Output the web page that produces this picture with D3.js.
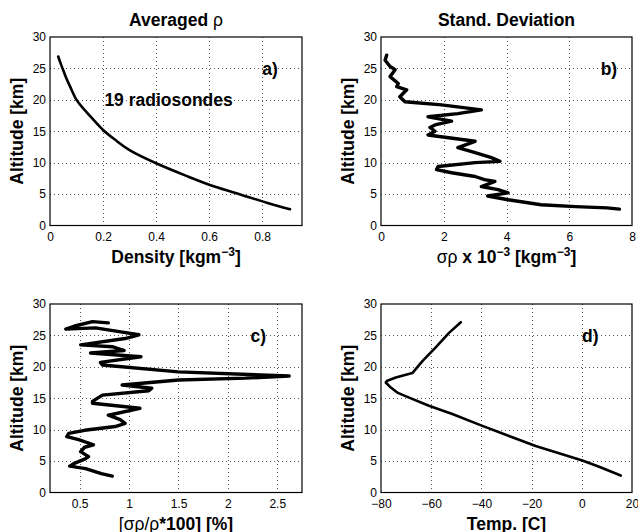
<!DOCTYPE html>
<html>
<head>
<meta charset="utf-8">
<script src="https://cdn.jsdelivr.net/npm/d3@7"></script>
<style>
    body { margin: 0; background: #fff; }
    svg { display: block; font-family: "Liberation Sans", Arial, Helvetica, sans-serif; }
</style>
</head>
<body>
<svg id="chart" width="638" height="532"></svg>
<script>
// values, top of the sounding first
const densityAlt = [26.9, 25.8, 24.7, 23.4, 22.1, 20.0, 18.6, 17.0, 15.2, 13.5, 12.0, 9.9, 7.8, 6.2, 4.9, 3.6, 2.6];
const densityVal = [0.031, 0.040, 0.050, 0.062, 0.076, 0.100, 0.126, 0.160, 0.200, 0.250, 0.300, 0.400, 0.520, 0.620, 0.720, 0.820, 0.905];

const sdAlt = [27.1, 26.3, 25.3, 24.8, 23.7, 22.6, 22.1, 21.6, 20.5, 19.7, 19.2, 18.4, 17.8, 17.3, 16.6, 16.0, 15.6, 15.0, 14.4,
    13.4, 12.4, 11.6, 10.8, 10.2, 10.0, 9.4, 8.9, 8.4, 7.8, 7.3, 7.0, 6.2, 5.7, 5.2, 4.7, 4.1, 3.3, 3.0, 2.8, 2.6];
const sdVal = [0.18, 0.13, 0.29, 0.45, 0.29, 0.55, 0.50, 0.82, 0.60, 0.76, 1.93, 3.20, 2.45, 1.50, 2.25, 1.72, 1.56, 1.72, 1.50,
    3.00, 2.45, 3.00, 3.52, 3.79, 3.00, 1.82, 1.77, 2.25, 3.00, 3.30, 3.63, 3.20, 3.73, 4.05, 3.40, 4.05, 5.10, 6.20, 7.20, 7.60];

const relAlt = [27.0, 27.2, 26.5, 26.0, 26.2, 25.6, 25.1, 24.5, 23.5, 23.2, 22.6, 22.2, 21.6, 20.7, 20.3, 19.2, 18.55, 18.2, 17.9,
    17.1, 16.6, 16.2, 15.5, 14.5, 14.2, 13.4, 12.3, 11.6, 11.0, 10.5, 9.9, 9.4, 8.9, 8.4, 7.6, 7.2, 6.5, 5.7, 5.3, 4.6, 4.2, 3.8, 3.0, 2.6];
const relVal = [0.79, 0.63, 0.45, 0.36, 0.66, 0.90, 1.10, 0.96, 0.51, 0.83, 0.95, 0.61, 1.12, 0.71, 0.73, 1.50, 2.62, 2.18, 1.50,
    0.93, 1.23, 1.20, 0.73, 0.63, 0.63, 1.11, 0.79, 0.91, 0.96, 0.86, 0.55, 0.39, 0.37, 0.49, 0.64, 0.55, 0.51, 0.59, 0.55, 0.44, 0.40, 0.56, 0.72, 0.83];

const tempAlt = [27.1, 25.4, 23.1, 20.9, 19.0, 18.3, 17.8, 17.5, 16.7, 15.9, 15.1, 13.8, 12.5, 10.6, 9.0, 7.4, 6.1, 5.1, 4.1, 2.7];
const tempVal = [-48.2, -52.9, -58.2, -63.5, -67.5, -74.1, -77.5, -78.1, -76.1, -73.5, -68.8, -60.9, -51.6, -39.6, -29.0, -18.4, -7.8, 0.2, 6.9, 15.5];

const altTicks = [0, 5, 10, 15, 20, 25, 30];
const densityTicks = [0, 0.2, 0.4, 0.6, 0.8];
const sdTicks = [0, 2, 4, 6, 8];
const relTicks = [0.5, 1, 1.5, 2, 2.5];
const tempTicks = [-80, -60, -40, -20, 0, 20];

const FONT = { TICK: 12, LABEL: 17.5, SUP: 12 };

// label pieces: [text, bold, superscript]
const panels = [
    {
        left: 50, top: 37, width: 252, height: 188.5,
        xDomain: [0, 0.95], xTicks: densityTicks, alt: densityAlt, val: densityVal,
        stroke: 2.6, curve: d3.curveCatmullRom,
        title: [['Averaged ', true], ['\u03c1', false]],
        xLabel: [['Density [kgm', true], ['\u22123', true, true], [']', true]],
        tag: 'a)', tagAt: [0.8, 24],
        note: '19 radiosondes', noteAt: [0.205, 19],
    },
    {
        left: 381, top: 37, width: 251, height: 188.5,
        xDomain: [0, 8], xTicks: sdTicks, alt: sdAlt, val: sdVal,
        stroke: 3.4, curve: d3.curveLinear,
        title: [['Stand. Deviation', true]],
        xLabel: [['\u03c3\u03c1', false], [' x 10', true], ['\u22123', true, true], [' [kgm', true], ['\u22123', true, true], [']', true]],
        tag: 'b)', tagAt: [7.0, 24],
    },
    {
        left: 50, top: 304, width: 252, height: 188.5,
        xDomain: [0.2, 2.75], xTicks: relTicks, alt: relAlt, val: relVal,
        stroke: 3.4, curve: d3.curveLinear,
        xLabel: [['[\u03c3\u03c1/\u03c1', false], ['*100] [%]', true]],
        tag: 'c)', tagAt: [2.23, 24],
    },
    {
        left: 381, top: 304, width: 251, height: 188.5,
        xDomain: [-80, 20], xTicks: tempTicks, alt: tempAlt, val: tempVal,
        stroke: 2.6, curve: d3.curveLinear,
        xLabel: [['Temp. [C]', true]],
        tag: 'd)', tagAt: [0.1, 24],
    },
];

function appendRichText(sel, parts) {
    let raised = false;
    parts.forEach(([str, bold, sup]) => {
        const t = sel.append('tspan')
            .attr('font-weight', bold ? 'bold' : 'normal')
            .attr('font-size', sup ? FONT.SUP : FONT.LABEL)
            .text(str);
        if (sup && !raised) { t.attr('dy', -7); raised = true; }
        else if (!sup && raised) { t.attr('dy', 7); raised = false; }
    });
}

function drawPanel(svg, p) {
    const x = d3.scaleLinear().domain(p.xDomain).range([p.left, p.left + p.width]);
    const y = d3.scaleLinear().domain([0, 30]).range([p.top + p.height, p.top]);
    const fmt = d3.format('~g');
    const g = svg.append('g');

    // dotted grid at the interior ticks
    const grid = g.append('g')
        .attr('stroke', '#555')
        .attr('stroke-width', 1)
        .attr('stroke-dasharray', '1,3');
    grid.selectAll('.gx')
        .data(p.xTicks.filter((t) => t > p.xDomain[0] && t < p.xDomain[1]))
        .join('line')
        .attr('x1', (d) => Math.round(x(d)) + 0.5).attr('x2', (d) => Math.round(x(d)) + 0.5)
        .attr('y1', p.top).attr('y2', p.top + p.height);
    grid.selectAll('.gy')
        .data(altTicks.filter((t) => t > 0 && t < 30))
        .join('line')
        .attr('y1', (d) => Math.round(y(d)) + 0.5).attr('y2', (d) => Math.round(y(d)) + 0.5)
        .attr('x1', p.left).attr('x2', p.left + p.width);

    const xAxis = g.append('g')
        .attr('transform', `translate(0,${p.top + p.height})`)
        .call(d3.axisBottom(x).tickValues(p.xTicks).tickSize(0).tickPadding(7).tickFormat(fmt));
    const yAxis = g.append('g')
        .attr('transform', `translate(${p.left},0)`)
        .call(d3.axisLeft(y).tickValues(altTicks).tickSize(0).tickPadding(4).tickFormat(fmt));
    [xAxis, yAxis].forEach((a) => {
        a.select('.domain').remove();
        a.selectAll('text')
            .attr('font-family', '"Liberation Sans", Arial, sans-serif')
            .attr('font-size', FONT.TICK)
            .attr('fill', '#000');
    });

    const line = d3.line()
        .x((d, i) => x(p.val[i]))
        .y((d) => y(d))
        .curve(p.curve);
    g.append('path')
        .datum(p.alt)
        .attr('d', line)
        .attr('fill', 'none')
        .attr('stroke', '#000')
        .attr('stroke-width', p.stroke)
        .attr('stroke-linejoin', 'round')
        .attr('stroke-linecap', 'round');

    g.append('rect')
        .attr('x', p.left).attr('y', p.top)
        .attr('width', p.width).attr('height', p.height)
        .attr('fill', 'none')
        .attr('stroke', '#000')
        .attr('stroke-width', 1.2);

    if (p.title) {
        appendRichText(g.append('text')
            .attr('x', p.left + p.width / 2).attr('y', p.top - 11)
            .attr('text-anchor', 'middle'), p.title);
    }

    appendRichText(g.append('text')
        .attr('x', p.left + p.width / 2).attr('y', p.top + p.height + 37)
        .attr('text-anchor', 'middle'), p.xLabel);

    g.append('text')
        .attr('transform', `translate(${p.left - 27},${p.top + p.height / 2}) rotate(-90)`)
        .attr('text-anchor', 'middle')
        .attr('font-weight', 'bold')
        .attr('font-size', FONT.LABEL)
        .text('Altitude [km]');

    g.append('text')
        .attr('x', x(p.tagAt[0])).attr('y', y(p.tagAt[1]))
        .attr('font-weight', 'bold')
        .attr('font-size', FONT.LABEL)
        .text(p.tag);

    if (p.note) {
        g.append('text')
            .attr('x', x(p.noteAt[0])).attr('y', y(p.noteAt[1]))
            .attr('font-weight', 'bold')
            .attr('font-size', FONT.LABEL)
            .text(p.note);
    }
}

const svg = d3.select('#chart');
panels.forEach((p) => drawPanel(svg, p));
</script>
</body>
</html>
